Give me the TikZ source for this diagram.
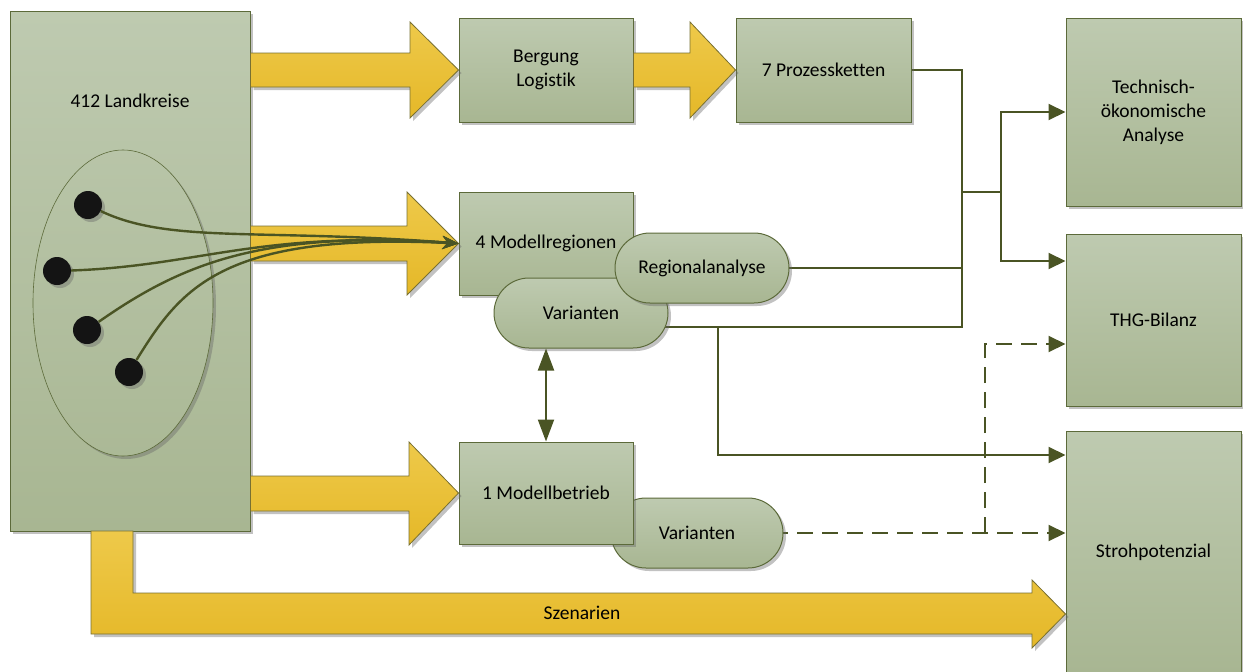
\documentclass[tikz,border=0pt]{standalone}
\usepackage{fontspec}
\setmainfont[Ligatures=NoCommon]{Carlito}
\usetikzlibrary{arrows.meta,shadows,shapes.geometric,shapes.misc}
\definecolor{boxtop}{RGB}{190,202,176}
\definecolor{boxbot}{RGB}{168,182,146}
\definecolor{boxedge}{RGB}{92,106,58}
\definecolor{olive}{RGB}{74,84,36}
\definecolor{ytop}{RGB}{238,201,74}
\definecolor{ybot}{RGB}{229,184,40}
\definecolor{yedge}{RGB}{120,112,50}
\pgfdeclarelayer{bg}
\pgfsetlayers{bg,main}
\tikzset{
  softshadow/.style={drop shadow={shadow xshift=3pt,shadow yshift=-3pt,opacity=.4,fill=black!60}},
  box/.style={rectangle, draw=boxedge, line width=1pt, top color=boxtop, bottom color=boxbot,
    softshadow, inner sep=0pt, align=center},
  pill/.style={box, rounded rectangle},
  yarrow/.style={draw=yedge, line width=.8pt, top color=ytop, bottom color=ybot, softshadow},
  link/.style={draw=olive, line width=2pt},
  linkarr/.style={link, -{Triangle[width=16pt,length=17pt]}},
  dlink/.style={linkarr, dash pattern=on 16pt off 9pt},
  fan/.style={draw=olive, line width=2.4pt, -{Stealth[length=16pt,width=13pt]}},
  dot/.style={circle, minimum size=28pt, inner sep=0pt, fill=black!92, softshadow},
}
\begin{document}
\begin{tikzpicture}[x=1pt,y=-1pt,font=\fontsize{19.5}{24}\selectfont]
    \useasboundingbox (0,0) rectangle (1243,672);
    % Landkreise mit Modellregionen
    \node[box, minimum width=240pt, minimum height=520pt] (land) at (130,271) {};
    \node (landlbl) at (130,101) {412 Landkreise};
    \node[box, ellipse, line width=.6pt, top color=boxbot!27!boxtop, bottom color=boxbot!86!boxtop,
      minimum width=180pt, minimum height=306pt] (grp) at (123,303) {};
    \node[dot] (d1) at (88,205) {};
    \node[dot] (d2) at (57,271) {};
    \node[dot] (d3) at (87,330) {};
    \node[dot] (d4) at (129,372) {};
    % Boxen
    \node[box, minimum width=174pt, minimum height=104pt] (berg) at (546,70) {Bergung\\Logistik};
    \node[box, minimum width=175pt, minimum height=104pt] (proz) at (823.5,70) {7 Prozessketten};
    \node[box, minimum width=174pt, minimum height=103pt] (mreg) at (546,243.5) {4 Modellregionen};
    \node[pill, minimum width=174pt, minimum height=70pt] (var1) at (581,313) {Varianten};
    \node[pill, minimum width=174pt, minimum height=70pt] (reg) at (702,268) {Regionalanalyse};
    \node[pill, minimum width=172pt, minimum height=70pt] (var2) at (697,533) {Varianten};
    \node[box, minimum width=174pt, minimum height=102pt] (mbet) at (546,493) {1 Modellbetrieb};
    \node[box, minimum width=175pt, minimum height=188pt] (tech) at (1153.5,112) {Technisch-\\ökonomische\\Analyse};
    \node[box, minimum width=175pt, minimum height=172pt] (thg) at (1153.5,320) {THG-Bilanz};
    \node[box, minimum width=175pt, minimum height=242pt] (stroh) at (1153.5,552) {Strohpotenzial};
    % Blockpfeile
    \draw[yarrow] (land.east |- 0,53) -- (410,53) -- (410,22) -- (berg.west)
      -- (410,118) -- (410,87) -- (land.east |- 0,87) -- cycle;
    \draw[yarrow] (berg.east |- 0,53) -- (690,53) -- (690,22) -- (proz.west)
      -- (690,118) -- (690,87) -- (berg.east |- 0,87) -- cycle;
    \draw[yarrow] (land.east |- 0,226) -- (407,226) -- (407,192) -- (mreg.west)
      -- (407,295) -- (407,261) -- (land.east |- 0,261) -- cycle;
    \draw[yarrow] (land.east |- 0,476) -- (409,476) -- (409,442) -- (mbet.west)
      -- (409,545) -- (409,511) -- (land.east |- 0,511) -- cycle;
    \draw[yarrow] (91,531) -- (91,634) -- (1032,634) -- (1032,648) -- (stroh.west |- 0,614)
      -- (1032,580) -- (1032,593) -- (133,593) -- (133,531) -- cycle;
    \node (szlbl) at (582,613) {Szenarien};
    % Auswahl der Regionen
    \draw[fan] (d1) .. controls (170,244) and (260,228) .. (mreg.west);
    \draw[fan] (d2) .. controls (200,266) and (260,230) .. (mreg.west);
    \draw[fan] (d3) .. controls (180,265) and (260,230) .. (mreg.west);
    \draw[fan] (d4) .. controls (180,290) and (220,232) .. (mreg.west);
    \draw[link, {Triangle[width=16pt,length=22pt]}-{Triangle[width=16pt,length=22pt]}]
      (mbet.north |- var1.south) -- (mbet.north);
    % Ergebnisse
    \begin{pgfonlayer}{bg}
      \coordinate (jn) at (962,192);
      \coordinate (kn) at (1001,192);
      \draw[link] (proz.east) -| (962,327) -- (var1.center |- 0,327);
      \draw[link] (reg.center) -- (reg.center -| jn);
      \draw[link] (jn) -- (kn);
      \draw[linkarr] (kn) |- (tech.west);
      \draw[linkarr] (kn) |- (thg.west |- 0,261);
      \draw[linkarr] (718,327) |- (stroh.west |- 0,455);
      \draw[dlink] (var2.center) -- (stroh.west |- var2.center);
      \draw[dlink] (985,533) |- (thg.west |- 0,344);
    \end{pgfonlayer}
\end{tikzpicture}
\end{document}
